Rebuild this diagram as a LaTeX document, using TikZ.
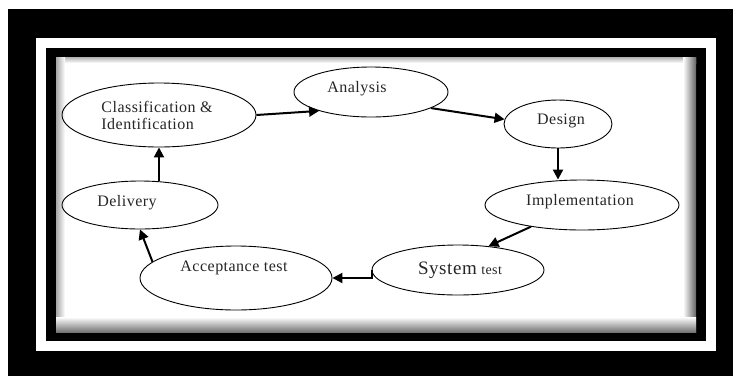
\documentclass[tikz,border=0pt]{standalone}
\usepackage{fontspec}
\setmainfont{Liberation Serif}
\usetikzlibrary{shapes.geometric,arrows.meta}
\begin{document}
\begin{tikzpicture}[x=1pt,y=-1pt,
  stage/.style={draw=black, line width=0.9pt, ellipse, inner sep=0pt},
  lbl/.style={font=\fontsize{16}{17}\selectfont\addfontfeatures{LetterSpace=3}, text=black!85, inner sep=0pt},
  arr/.style={line width=2pt, -{Triangle[length=10pt,width=10pt]}},
]
\useasboundingbox (0,0) rectangle (733,376);
% frame
\fill[white] (0,0) rectangle (733,376);
\fill[black] (8,9) rectangle (733,376);
\fill[white] (36,38) rectangle (716,351);
\fill[black] (46,48) rectangle (706,341);
\fill[white] (56,57) rectangle (696,332);
% inner shadow
\shade[top color=black!30, bottom color=white] (56,57) rectangle (696,63);
\shade[left color=black!35, right color=white] (56,57) rectangle (65,332);
\shade[left color=white, right color=black!60] (683,57) rectangle (696,332);
\shade[top color=white, bottom color=black!55] (56,317) rectangle (696,332);

% stages
\node[stage, minimum width=194pt, minimum height=64pt] (cls) at (159,115) {};
\node[stage, minimum width=154pt, minimum height=50pt] (ana) at (371,92) {};
\node[stage, minimum width=108pt, minimum height=48pt] (des) at (558,124) {};
\node[stage, minimum width=194pt, minimum height=50pt] (imp) at (582,205) {};
\node[stage, minimum width=172pt, minimum height=50pt] (sys) at (458,270) {};
\node[stage, minimum width=192pt, minimum height=64pt] (acc) at (236,278) {};
\node[stage, minimum width=156pt, minimum height=48pt] (del) at (140,205) {};

% labels
\node[lbl, align=left] (clst) at (157,115) {Classification \&\\Identification};
\node[lbl] (anat) at (357,89) {Analysis};
\node[lbl] (dest) at (561,121) {Design};
\node[lbl] (impt) at (580,202) {Implementation};
\node[lbl] (syst) at (460,270) {{\fontsize{19}{20}\selectfont System} {\fontsize{14}{15}\selectfont test}};
\node[lbl] (acct) at (234,268) {Acceptance test};
\node[lbl] (delt) at (127,203) {Delivery};

% arrows
\draw[arr] (cls.south |- del.north) -- (cls.south);
\draw[arr] (cls.east) -- (ana.200);
\draw[arr] (ana.345) -- (des.175);
\draw[arr] (des.south) -- (des.south |- imp.north);
\draw[arr] (imp.203) -- (sys.38);
\draw[arr] (sys.west) |- (acc.east);
\draw[arr] (acc.169) -- (del.south);
\end{tikzpicture}
\end{document}
